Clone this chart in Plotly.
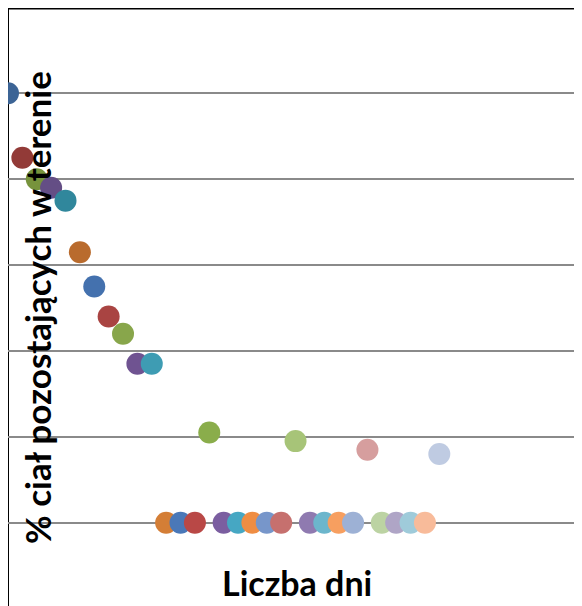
import plotly.graph_objects as go

# Data
days = [0, 1, 2, 3, 4, 5, 6, 7, 8, 9, 10,
        11, 12, 13, 14, 15, 16, 17, 18, 19, 20,
        21, 22, 23, 24, 25, 26, 27, 28, 29, 30]
pct_remaining = [100, 85, 80, 78, 75, 63, 55, 48, 44, 37, 37,
                 0, 0, 0, 21, 0, 0, 0, 0, 0, 19,
                 0, 0, 0, 0, 17, 0, 0, 0, 0, 16]

y_title = "% ciał pozostających w terenie"
x_title = "Liczba dni"

# Style: one colour per point (Excel-like series palette)
point_colors = [
    "#3C6495", "#923A37", "#77933C", "#644E85", "#30879C", "#B96B2D",
    "#4471AE", "#A94442", "#88A64B", "#6F5391", "#3E9CB3", "#D47E36",
    "#4A78B8", "#B94846", "#8AAD4B", "#7B5EA0", "#46A7C3", "#EF8D43",
    "#7796CA", "#C6706E", "#A7C478", "#8F7AB0", "#6CB6CC", "#F79F60",
    "#9DB1D5", "#D69E9E", "#BCD3A3", "#AFA5C6", "#9FCBDA", "#F8BB9A",
    "#BFCBE2",
]

fig = go.Figure()
fig.add_trace(go.Scatter(
    x=days, y=pct_remaining, mode="markers",
    marker=dict(size=22, color=point_colors, line=dict(width=0), opacity=1),
    cliponaxis=False, showlegend=False, hoverinfo="x+y",
))

# The page shows the figure with an 8px offset; the figure runs past the window edge.
W, H = 582, 598
OX, OY = 8, 8
PX_PER_DAY = 14.377


def px(xp):
    return (xp - OX) / W


def py(yp):
    return (OY + H - yp) / H


fig.update_layout(
    width=W, height=H,
    margin=dict(l=0, r=0, t=0, b=0, pad=0),
    paper_bgcolor="white", plot_bgcolor="white",
    xaxis=dict(range=[0, W / PX_PER_DAY], showgrid=False, zeroline=False,
               showticklabels=False, ticks="", showline=False, fixedrange=True),
    yaxis=dict(range=[-19.4, 119.86], dtick=20, tick0=0, showgrid=True,
               gridcolor="#8A8A8A", gridwidth=1.6, zeroline=False,
               showticklabels=False, ticks="", showline=False, fixedrange=True),
    font=dict(family="Lato", color="black"),
    shapes=[
        dict(type="line", xref="paper", yref="paper", x0=0, x1=1, y0=1, y1=1,
             line=dict(color="black", width=3), layer="above"),
        dict(type="line", xref="paper", yref="paper", x0=0, x1=0, y0=0, y1=1,
             line=dict(color="black", width=2), layer="below"),
    ],
    annotations=[
        dict(text="<b>" + y_title + "</b>", xref="paper", yref="paper",
             x=px(37), y=py(308), xanchor="center", yanchor="middle",
             textangle=-90, showarrow=False,
             font=dict(size=35, family="Lato", color="black")),
        dict(text="<b>" + x_title + "</b>", xref="paper", yref="paper",
             x=px(297), y=py(582), xanchor="center", yanchor="middle",
             showarrow=False, font=dict(size=34, family="Lato", color="black")),
    ],
)

fig.write_html(
    "out.html",
    post_script="document.documentElement.style.overflow='hidden';"
                "document.body.style.overflow='hidden';",
)
